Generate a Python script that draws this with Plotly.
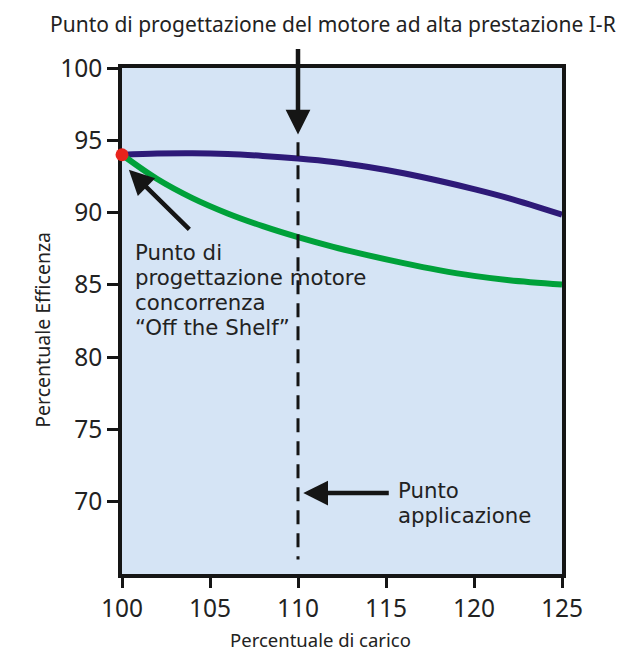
import plotly.graph_objects as go

load_pct = [100, 102, 104, 106, 108, 110, 112, 114, 116, 118, 120, 122, 125]
eff_ir = [94.0, 94.08, 94.1, 94.05, 93.92, 93.74, 93.5, 93.15, 92.72, 92.2, 91.62, 90.98, 89.85]
eff_shelf = [94.0, 92.32, 91.0, 89.94, 89.06, 88.3, 87.63, 87.04, 86.5, 86.02, 85.62, 85.32, 85.02]
design_point = (100, 94.0)
app_load = 110
x_ticks = [100, 105, 110, 115, 120, 125]
y_ticks = [70, 75, 80, 85, 90, 95, 100]
note_design = ["Punto di", "progettazione motore", "concorrenza", "“Off the Shelf”"]
note_app = ["Punto", "applicazione"]
title_text = "Punto di progettazione del motore ad alta prestazione I-R"
x_title = "Percentuale di carico"
y_title = "Percentuale Efficenza"

FONT = "Noto Sans"
NOTE_FONT = "DejaVu Sans"
TXT = "#222222"
INK = "#151515"

fig = go.Figure()
fig.add_trace(go.Scatter(x=load_pct, y=eff_ir, mode="lines",
                         line=dict(color="#2E1A78", width=6, shape="spline"), showlegend=False))
fig.add_trace(go.Scatter(x=load_pct, y=eff_shelf, mode="lines",
                         line=dict(color="#00A13A", width=6, shape="spline"), showlegend=False))
fig.add_trace(go.Scatter(x=[design_point[0]], y=[design_point[1]], mode="markers",
                         marker=dict(color="#E8231C", size=13), showlegend=False, cliponaxis=False))

fig.add_shape(type="line", x0=app_load, x1=app_load, y0=94.87, y1=66.0, xref="x", yref="y",
              line=dict(color=INK, width=3, dash="14px,9px"))

# top arrow
fig.add_annotation(x=app_load, y=95.4, ax=0, ay=-87, showarrow=True, arrowhead=2, arrowsize=1.1,
                   arrowwidth=4.5, arrowcolor=INK, text="")
# design point arrow
fig.add_annotation(x=100.39, y=92.96, ax=62, ay=61, showarrow=True, arrowhead=2, arrowsize=1.1,
                   arrowwidth=4.5, arrowcolor=INK, text="")
# application arrow
fig.add_annotation(x=110.3, y=70.6, ax=87, ay=0, showarrow=True, arrowhead=2, arrowsize=1.1,
                   arrowwidth=4.5, arrowcolor=INK, text="")

for i, line in enumerate(note_design):
    fig.add_annotation(x=100.88, y=87.21, xshift=-3, yshift=-25 * i, xanchor="left", yanchor="middle",
                       borderpad=0, showarrow=False, text=line,
                       font=dict(family=NOTE_FONT, size=21.3, color=TXT))
for i, line in enumerate(note_app):
    fig.add_annotation(x=115.71, y=70.75, xshift=-2, yshift=-25 * i, xanchor="left", yanchor="middle",
                       borderpad=0, showarrow=False, text=line,
                       font=dict(family=NOTE_FONT, size=21.3, color=TXT))

fig.add_annotation(x=0.4795, y=1.0, xref="paper", yref="paper", xanchor="center", yanchor="middle",
                   yshift=44, showarrow=False, text=title_text, font=dict(family=FONT, size=21, color=TXT))
fig.add_annotation(x=0.452, y=0.0, xref="paper", yref="paper", xanchor="center", yanchor="middle",
                   yshift=-65, showarrow=False, text=x_title, font=dict(family=FONT, size=18.5, color=TXT))
fig.add_annotation(x=0.0, y=0.4817, xref="paper", yref="paper", xanchor="center", yanchor="middle",
                   xshift=-79.5, textangle=-90, showarrow=False, text=y_title,
                   font=dict(family=FONT, size=19.5, color=TXT))

fig.update_layout(
    width=635, height=644,
    margin=dict(l=114, r=81, t=60, b=78),
    paper_bgcolor="white", plot_bgcolor="#D5E4F5",
    font=dict(family=FONT, color=TXT),
)
fig.update_xaxes(range=[100, 125], tickvals=x_ticks, ticks="outside", ticklen=10, tickwidth=3, tickcolor=INK,
                 showline=True, linewidth=3.5, linecolor=INK, mirror=True, showgrid=False, zeroline=False,
                 layer="below traces", tickfont=dict(size=24.5, family=FONT, color=TXT))
fig.update_yaxes(range=[65, 100], tickvals=y_ticks, ticks="outside", ticklen=11, tickwidth=3, tickcolor=INK,
                 showline=True, linewidth=3.5, linecolor=INK, mirror=True, showgrid=False, zeroline=False,
                 layer="below traces", tickfont=dict(size=24.5, family=FONT, color=TXT))

fig.write_html("out.html")
